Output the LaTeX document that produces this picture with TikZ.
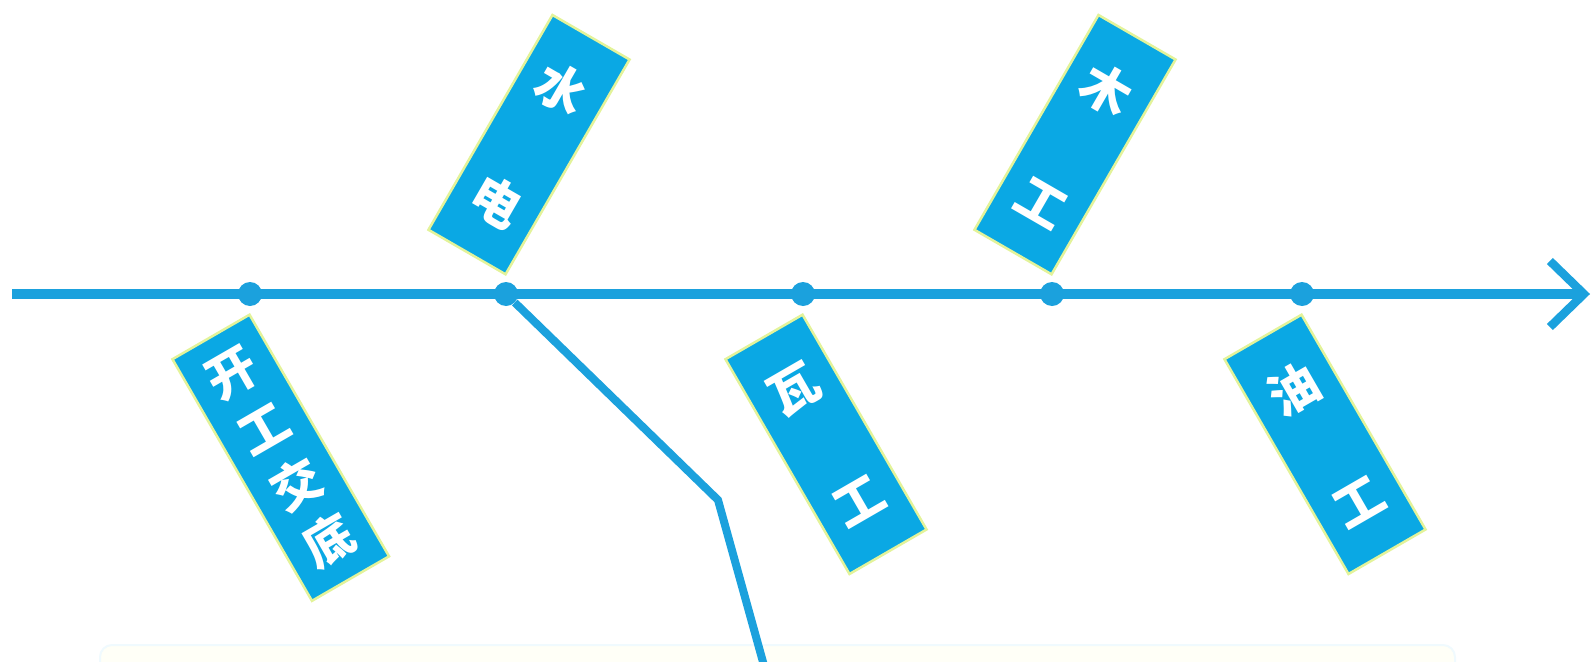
\documentclass[tikz,border=0pt]{standalone}
\usepackage{fontspec}
\newfontfamily\cjk{Noto Sans CJK SC}
\usetikzlibrary{calc,arrows.meta}
\definecolor{lineblue}{HTML}{1BA1DD}
\definecolor{tagblue}{HTML}{0AA8E4}
\definecolor{tagrim}{HTML}{E3F39A}
\tikzset{
  spine/.style={draw=lineblue, line width=9.5pt},
  branch/.style={draw=lineblue, line width=8pt, line join=miter},
  jointdot/.style={circle, fill=lineblue, minimum size=24pt, inner sep=0pt},
  tag/.style={fill=tagblue, draw=tagrim, line width=2.5pt, text=white,
    align=center, inner sep=0pt, minimum width=89pt},
  longtag/.style={tag, minimum height=279pt,
    font=\cjk\bfseries\fontsize{50}{65}\selectfont},
  shorttag/.style={tag, minimum height=248pt,
    font=\cjk\bfseries\fontsize{50}{130}\selectfont},
}
\begin{document}
\begin{tikzpicture}[x=1pt,y=-1pt]
\useasboundingbox (0,0) rectangle (1594,661);
% pale panel cut off at the bottom
\draw[draw=cyan!6, fill=yellow!3, line width=2pt, rounded corners=12pt]
  (100,645) rectangle (1455,720);
% main line
\coordinate (tail) at (12,294);
\coordinate (head) at (1590,294);
\draw[spine, -{Straight Barb[length=34pt,width=66pt,line width=8.5pt]}]
  (tail) -- (head);
\foreach \i/\x in {1/250,2/506,3/803,4/1052,5/1302}
  \node[jointdot] (d\i) at (\x,294) {};
% branch going down
\coordinate (bend) at (718,500);
\coordinate (foot) at (768,680);
\draw[branch] (d2) -- (bend) -- (foot);
% tags below the line
\node[longtag, rotate=30, anchor=north east] (kaigong)
  at ($(d1)+(0,19)$) {开\\工\\交\\底};
\node[shorttag, rotate=30, anchor=north east] (wagong)
  at ($(d3)+(0,19)$) {瓦\\工};
\node[shorttag, rotate=30, anchor=north east] (yougong)
  at ($(d5)+(0,19)$) {油\\工};
% tags above the line
\node[shorttag, rotate=-30, anchor=south east] (shuidian)
  at ($(d2)+(0,-18)$) {水\\电};
\node[shorttag, rotate=-30, anchor=south east] (mugong)
  at ($(d4)+(0,-18)$) {木\\工};
\end{tikzpicture}
\end{document}
